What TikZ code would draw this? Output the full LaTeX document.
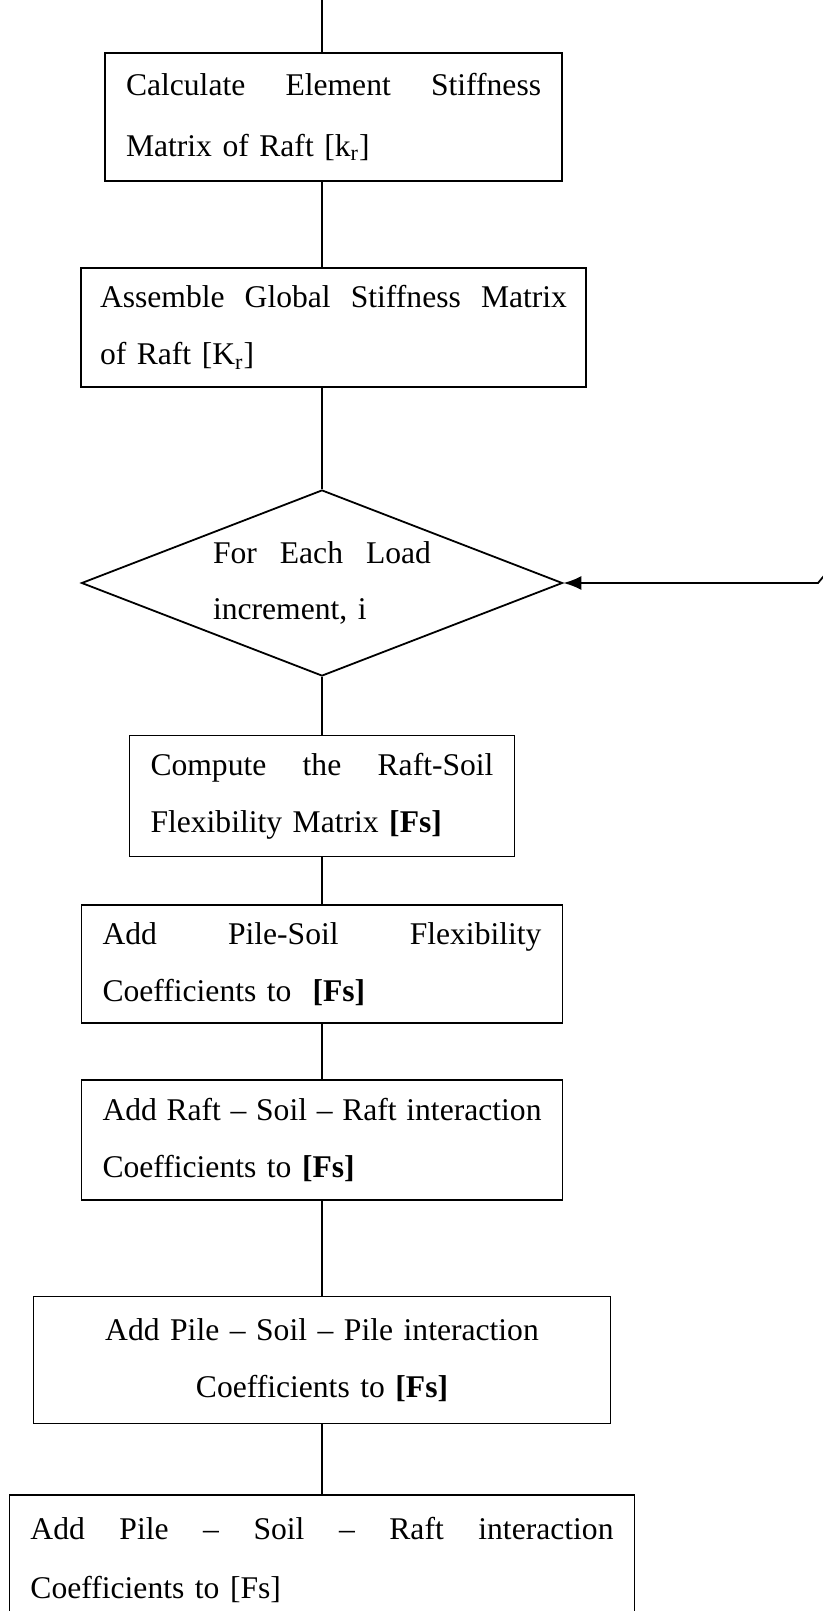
\documentclass[tikz,border=0pt]{standalone}
\usepackage{fontspec}
\setmainfont{Liberation Serif}
\usetikzlibrary{shapes.geometric,arrows.meta}

\begin{document}
\begin{tikzpicture}[
  x=0.5pt, y=-0.5pt,
  stepbox/.style={draw, line width=0.9pt, inner xsep=10.5pt, inner ysep=0pt, align=left,
    font=\fontsize{15.8}{28.5}\selectfont},
  midbox/.style={stepbox, align=center},
  loopdec/.style={diamond, draw, line width=0.9pt, inner sep=0pt, aspect=2.6, align=left,
    text width=109pt, minimum width=240.5pt, minimum height=93pt,
    font=\fontsize{15.8}{28}\selectfont},
  link/.style={draw, line width=0.9pt},
  backlink/.style={draw, line width=0.9pt, -{Latex[length=9pt, width=7pt]}}
]
\clip (0,0) rectangle (823,1611);

\node[stepbox, text width=207.5pt, minimum height=64pt, font=\fontsize{15.8}{30.5}\selectfont]
  (elemk) at (333.5,117) {Calculate\hfill Element\hfill Stiffness\\Matrix of Raft [k\textsubscript{r}]};
\node[stepbox, inner xsep=9.5pt, text width=233.5pt, minimum height=59.5pt]
  (globk) at (333.5,327.5) {Assemble\hfill Global\hfill Stiffness\hfill Matrix\\of Raft [K\textsubscript{r}]};
\node[loopdec] (loadinc) at (322,583) {For\hfill Each\hfill Load\\increment, i};
\node[stepbox, text width=171.5pt, minimum height=60.5pt]
  (rsflex) at (322,796) {Compute\hfill the\hfill Raft-Soil\\Flexibility Matrix \textbf{[Fs]}};
\node[stepbox, text width=219.5pt, minimum height=59pt]
  (psflex) at (322,964) {Add\hfill Pile-Soil\hfill Flexibility\\Coefficients to\ \ \textbf{[Fs]}};
\node[stepbox, text width=219.5pt, minimum height=60pt]
  (rsr) at (322,1140) {Add\hfill Raft\hfill --\hfill Soil\hfill --\hfill Raft\hfill interaction\\Coefficients to \textbf{[Fs]}};
\node[midbox, text width=267.5pt, minimum height=63.5pt]
  (psp) at (322,1360) {Add Pile -- Soil -- Pile interaction\\Coefficients to \textbf{[Fs]}};
\node[stepbox, text width=291.5pt, minimum height=65pt, font=\fontsize{15.8}{29.5}\selectfont]
  (psr) at (322,1560) {Add\hfill Pile\hfill --\hfill Soil\hfill --\hfill Raft\hfill interaction\\Coefficients to [Fs]};

\coordinate (entry) at (322,0);
\coordinate (loopcorner) at (818,583);
\coordinate (loopfrom) at (828,571);

\draw[link] (entry) -- (elemk.north -| entry);
\draw[link] (elemk.south -| entry) -- (globk.north -| entry);
\draw[link] (globk.south -| entry) -- (loadinc.north);
\draw[link] (loadinc.south) -- (rsflex.north);
\draw[link] (rsflex.south) -- (psflex.north);
\draw[link] (psflex.south) -- (rsr.north);
\draw[link] (rsr.south) -- (psp.north);
\draw[link] (psp.south) -- (psr.north);
\draw[backlink] (loopfrom) -- (loopcorner) -- (loadinc.east);

\end{tikzpicture}
\end{document}
